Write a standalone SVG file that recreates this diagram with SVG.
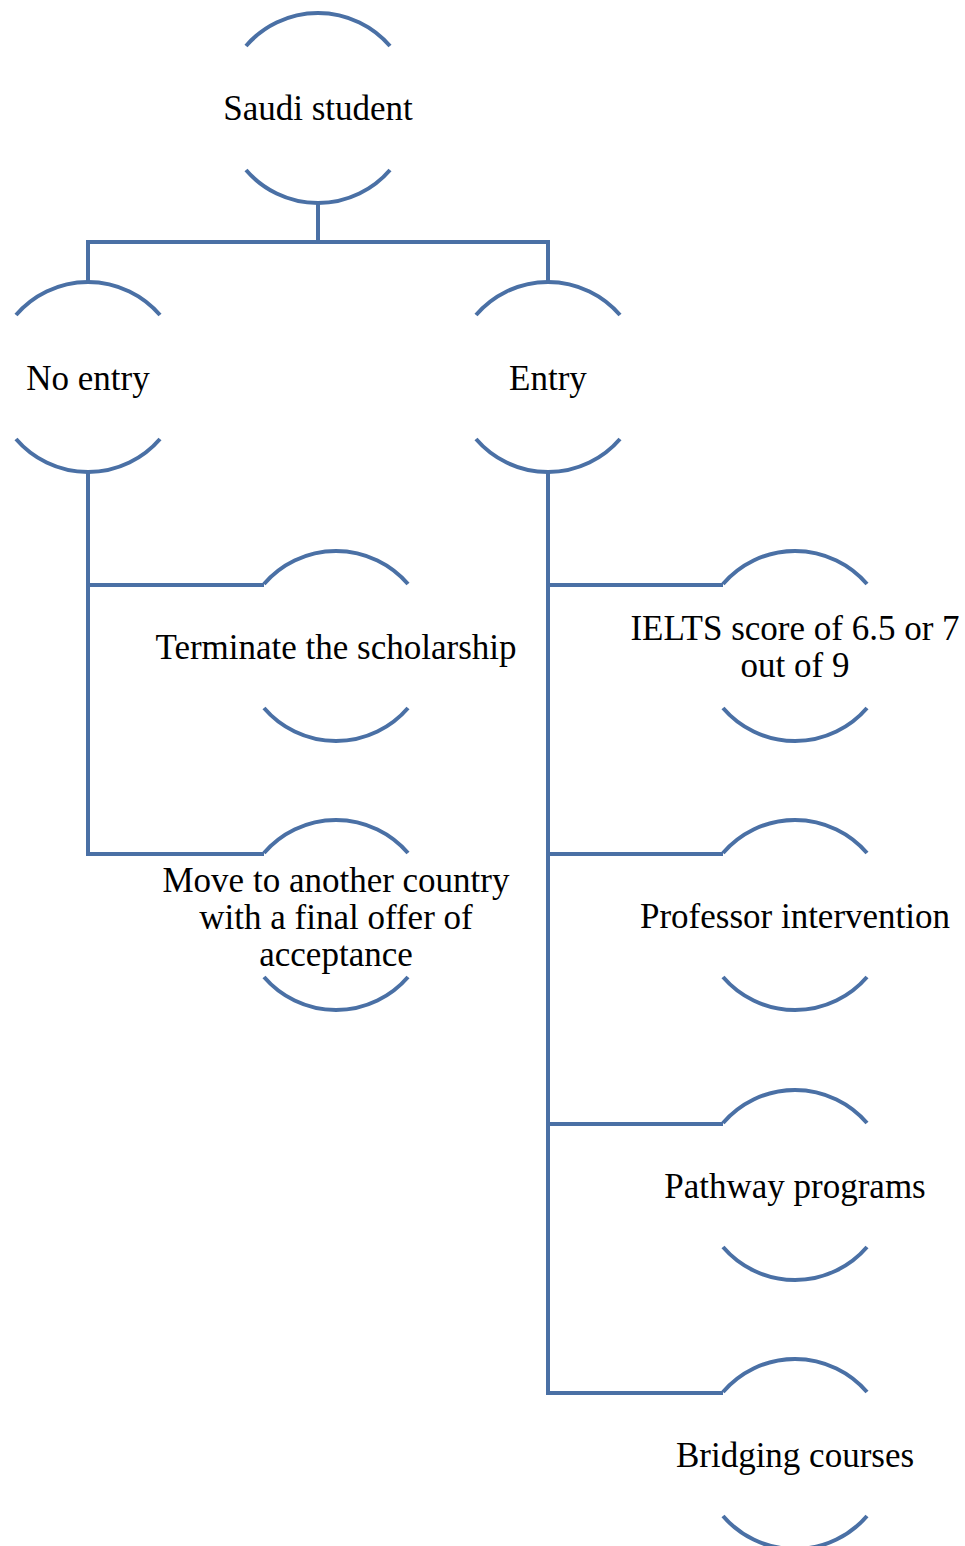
<svg xmlns="http://www.w3.org/2000/svg" width="965" height="1546" viewBox="0 0 965 1546">
<style>
.arc{fill:none;stroke:#4a70a5;stroke-width:4}
.con{fill:none;stroke:#4a70a5;stroke-width:4;stroke-linejoin:miter}
.lbl{font-family:"Liberation Serif","Times New Roman",serif;font-size:35px;fill:#000;text-anchor:middle}
</style>
<rect width="965" height="1546" fill="#fff"/>
<g id="connectors">
<path class="con" d="M318,203 V242"/>
<path class="con" d="M88,282 V242 H548 V282"/>
<path class="con" d="M88,472 V854 H264"/>
<path class="con" d="M88,585 H264"/>
<path class="con" d="M548,472 V1393 H723"/>
<path class="con" d="M548,585 H723"/>
<path class="con" d="M548,854 H723"/>
<path class="con" d="M548,1124 H723"/>
</g>
<g id="saudi-student">
<path class="arc" d="M246,46 A95,95 0 0 1 390,46"/>
<path class="arc" d="M246,170 A95,95 0 0 0 390,170"/>
<text class="lbl" x="318" y="120">Saudi student</text>
</g>
<g id="no-entry">
<path class="arc" d="M16,315 A95,95 0 0 1 160,315"/>
<path class="arc" d="M16,439 A95,95 0 0 0 160,439"/>
<text class="lbl" x="88" y="390">No entry</text>
</g>
<g id="entry">
<path class="arc" d="M476,315 A95,95 0 0 1 620,315"/>
<path class="arc" d="M476,439 A95,95 0 0 0 620,439"/>
<text class="lbl" x="548" y="390">Entry</text>
</g>
<g id="terminate">
<path class="arc" d="M264,584 A95,95 0 0 1 408,584"/>
<path class="arc" d="M264,708 A95,95 0 0 0 408,708"/>
<text class="lbl" x="336" y="659">Terminate the scholarship</text>
</g>
<g id="move">
<path class="arc" d="M264,853 A95,95 0 0 1 408,853"/>
<path class="arc" d="M264,977 A95,95 0 0 0 408,977"/>
<text class="lbl" x="336" y="892">Move to another country</text>
<text class="lbl" x="336" y="929">with a final offer of</text>
<text class="lbl" x="336" y="966">acceptance</text>
</g>
<g id="ielts">
<path class="arc" d="M723,584 A95,95 0 0 1 867,584"/>
<path class="arc" d="M723,708 A95,95 0 0 0 867,708"/>
<text class="lbl" x="795" y="640">IELTS score of 6.5 or 7</text>
<text class="lbl" x="795" y="677">out of 9</text>
</g>
<g id="professor">
<path class="arc" d="M723,853 A95,95 0 0 1 867,853"/>
<path class="arc" d="M723,977 A95,95 0 0 0 867,977"/>
<text class="lbl" x="795" y="928">Professor intervention</text>
</g>
<g id="pathway">
<path class="arc" d="M723,1123 A95,95 0 0 1 867,1123"/>
<path class="arc" d="M723,1247 A95,95 0 0 0 867,1247"/>
<text class="lbl" x="795" y="1198">Pathway programs</text>
</g>
<g id="bridging">
<path class="arc" d="M723,1392 A95,95 0 0 1 867,1392"/>
<path class="arc" d="M723,1516 A95,95 0 0 0 867,1516"/>
<text class="lbl" x="795" y="1467">Bridging courses</text>
</g>
</svg>
